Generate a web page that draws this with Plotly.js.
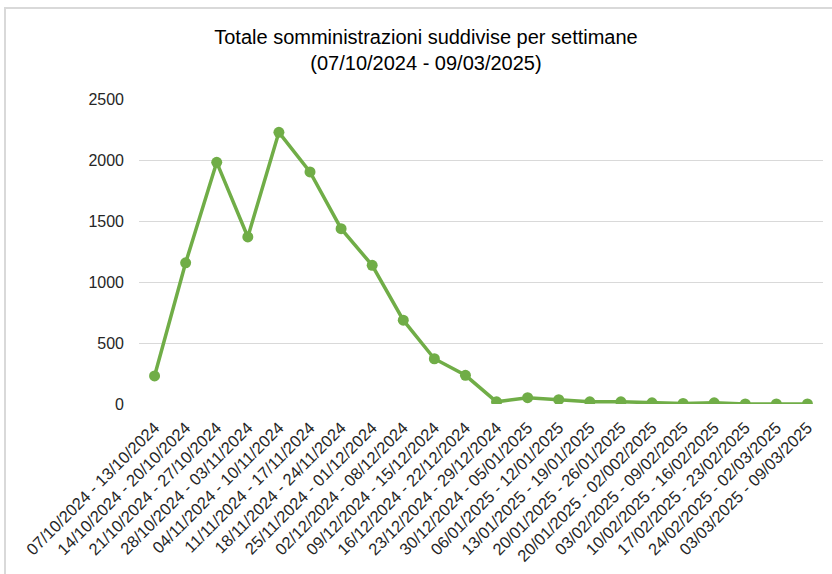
<!DOCTYPE html>
<html>
<head>
<meta charset="utf-8">
<script src="https://cdn.plot.ly/plotly-3.0.1.min.js"></script>
<style>
  html, body { margin: 0; padding: 0; background: #ffffff; }
  #wrap { position: relative; width: 832px; height: 574px; overflow: hidden; }
  #chart { position: absolute; left: 0; top: 0; width: 832px; height: 574px; }
  #frame { position: absolute; left: 4px; top: 7px; width: 900px; height: 700px;
           border-left: 2px solid #d9d9d9; border-top: 2px solid #d9d9d9; pointer-events: none; }
</style>
</head>
<body>
<div id="wrap">
  <div id="chart"></div>
  <div id="frame"></div>
</div>
<script>
const weeks = [
  "07/10/2024 - 13/10/2024",
  "14/10/2024 - 20/10/2024",
  "21/10/2024 - 27/10/2024",
  "28/10/2024 - 03/11/2024",
  "04/11/2024 - 10/11/2024",
  "11/11/2024 - 17/11/2024",
  "18/11/2024 - 24/11/2024",
  "25/11/2024 - 01/12/2024",
  "02/12/2024 - 08/12/2024",
  "09/12/2024 - 15/12/2024",
  "16/12/2024 - 22/12/2024",
  "23/12/2024 - 29/12/2024",
  "30/12/2024 - 05/01/2025",
  "06/01/2025 - 12/01/2025",
  "13/01/2025 - 19/01/2025",
  "20/01/2025 - 26/01/2025",
  "20/01/2025 - 02/002/2025",
  "03/02/2025 - 09/02/2025",
  "10/02/2025 - 16/02/2025",
  "17/02/2025 - 23/02/2025",
  "24/02/2025 - 02/03/2025",
  "03/03/2025 - 09/03/2025"
];
const somministrazioni = [230, 1157, 1981, 1369, 2227, 1902, 1437, 1137, 687, 371, 235,
                          18, 52, 35, 18, 18, 10, 4, 10, 0, 0, 0];
const yTicks = [0, 500, 1000, 1500, 2000, 2500];
const titleText = "Totale somministrazioni suddivise per settimane<br>(07/10/2024 - 09/03/2025)";

const FONT = "'Liberation Sans', Arial, sans-serif";
const GREEN = "#70ad47";

const trace = {
  type: "scatter",
  mode: "lines+markers",
  x: weeks.map((_, i) => i),
  y: somministrazioni,
  line: { color: GREEN, width: 3.5 },
  marker: { color: GREEN, size: 11 },
  hoverinfo: "x+y"
};

const layout = {
  width: 832,
  height: 574,
  margin: { l: 139, r: 9, t: 99, b: 170 },
  paper_bgcolor: "rgba(0,0,0,0)",
  plot_bgcolor: "rgba(0,0,0,0)",
  showlegend: false,
  font: { family: FONT, color: "#262626", size: 16 },
  title: {
    text: titleText,
    font: { family: FONT, size: 20, color: "#000000" },
    xref: "container", x: 0.512, xanchor: "center",
    yref: "container", y: 0.923, yanchor: "middle"
  },
  xaxis: {
    type: "linear",
    range: [-0.5, weeks.length - 0.5],
    tickmode: "array",
    tickvals: weeks.map((_, i) => i),
    ticktext: weeks,
    tickangle: -45,
    showgrid: false,
    zeroline: false,
    showline: false,
    ticks: "",
    ticklabelstandoff: 10,
    tickfont: { family: FONT, size: 16.5, color: "#262626" },
    fixedrange: true
  },
  yaxis: {
    range: [0, 2500],
    tickmode: "array",
    tickvals: yTicks,
    ticktext: yTicks.map(String),
    showgrid: true,
    gridcolor: "#d9d9d9",
    gridwidth: 1,
    zeroline: false,
    showline: false,
    ticks: "",
    ticklabelstandoff: 14,
    tickfont: { family: FONT, size: 16, color: "#262626" },
    fixedrange: true
  }
};

Plotly.newPlot("chart", [trace], layout, { displayModeBar: false, staticPlot: true });
</script>
</body>
</html>
